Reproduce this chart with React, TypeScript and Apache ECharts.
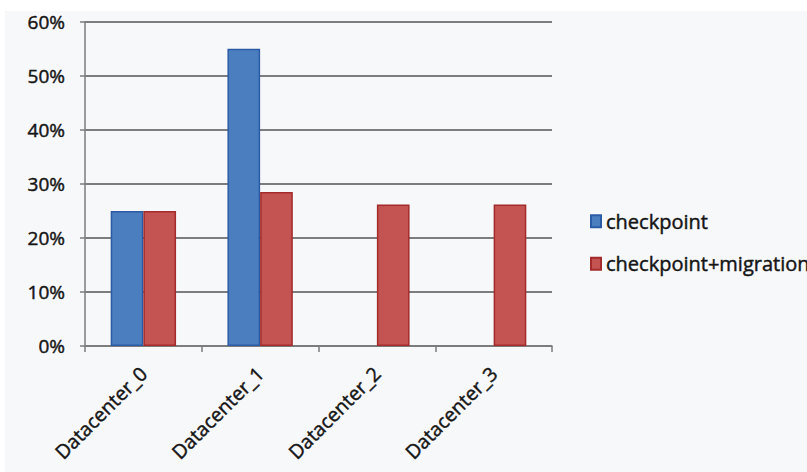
import React, { useEffect, useRef } from "react";
import * as echarts from "echarts";

const categories = ["Datacenter_0", "Datacenter_1", "Datacenter_2", "Datacenter_3"];
const seriesNames = ["checkpoint", "checkpoint+migration"];
const checkpointValues = [0.25, 0.55, 0, 0];
const migrationValues = [0.25, 0.285, 0.262, 0.262];
const yTicks = { min: 0, max: 0.6, interval: 0.1 };

const FONT = "'Open Sans', 'Noto Sans', sans-serif";
const GRID_COLOR = "#7d7d7d";
const TEXT_COLOR = "#151515";
// a hairline outline gives the labels a slightly heavier stroke
const heavier = { textBorderColor: TEXT_COLOR, textBorderWidth: 0.45 };

function toData(values: number[]) {
  // zero-height bars get no outline so they vanish into the axis
  return values.map((v) => (v === 0 ? { value: v, itemStyle: { borderWidth: 0 } } : v));
}

export default function App() {
  const ref = useRef<HTMLDivElement>(null);

  useEffect(() => {
    if (!ref.current) return;
    const chart = echarts.init(ref.current, undefined, { renderer: "svg" });
    chart.setOption({
      animation: false,
      backgroundColor: "transparent",
      textStyle: { fontFamily: FONT },
      grid: { left: 85, top: 21.7, width: 467, bottom: 126, containLabel: false },
      legend: {
        orient: "vertical",
        left: 590,
        top: 211,
        padding: 0,
        itemWidth: 10,
        itemHeight: 12,
        itemGap: 22,
        icon: "rect",
        data: seriesNames,
        textStyle: { fontFamily: FONT, fontSize: 20, color: TEXT_COLOR, lineHeight: 20, ...heavier },
      },
      xAxis: {
        type: "category",
        data: categories,
        axisLine: { show: true, lineStyle: { color: GRID_COLOR, width: 1.5 } },
        axisTick: { show: true, length: 6, lineStyle: { color: GRID_COLOR, width: 1.5 } },
        axisLabel: {
          rotate: 45,
          margin: 24,
          interval: 0,
          fontFamily: FONT,
          fontSize: 19.5,
          color: TEXT_COLOR,
          ...heavier,
        },
      },
      yAxis: {
        type: "value",
        min: yTicks.min,
        max: yTicks.max,
        interval: yTicks.interval,
        axisLine: { show: true, lineStyle: { color: GRID_COLOR, width: 1.5 } },
        axisTick: { show: true, length: 5, lineStyle: { color: GRID_COLOR, width: 1.5 } },
        splitLine: { show: true, lineStyle: { color: GRID_COLOR, width: 1.8 } },
        axisLabel: {
          margin: 20,
          fontFamily: FONT,
          fontSize: 19,
          color: TEXT_COLOR,
          ...heavier,
          formatter: (v: number) => `${Math.round(v * 100)}%`,
        },
      },
      series: [
        {
          name: seriesNames[0],
          type: "bar",
          data: toData(checkpointValues),
          barGap: "0%",
          barCategoryGap: "44%",
          itemStyle: { color: "#4a7ebf", borderColor: "#2c5ba6", borderWidth: 1.5 },
        },
        {
          name: seriesNames[1],
          type: "bar",
          data: toData(migrationValues),
          barGap: "0%",
          barCategoryGap: "44%",
          itemStyle: { color: "#c35452", borderColor: "#a32b2b", borderWidth: 1.5 },
        },
      ],
    });
    return () => chart.dispose();
  }, []);

  return (
    <div style={{ position: "fixed", left: 0, top: 0, width: 807, height: 472, background: "#ffffff" }}>
      <div
        style={{ position: "absolute", left: 5, top: 11, width: 802, height: 461, background: "#f7f8fa" }}
      />
      <div ref={ref} style={{ position: "absolute", left: 0, top: 0, width: 807, height: 472 }} />
    </div>
  );
}
